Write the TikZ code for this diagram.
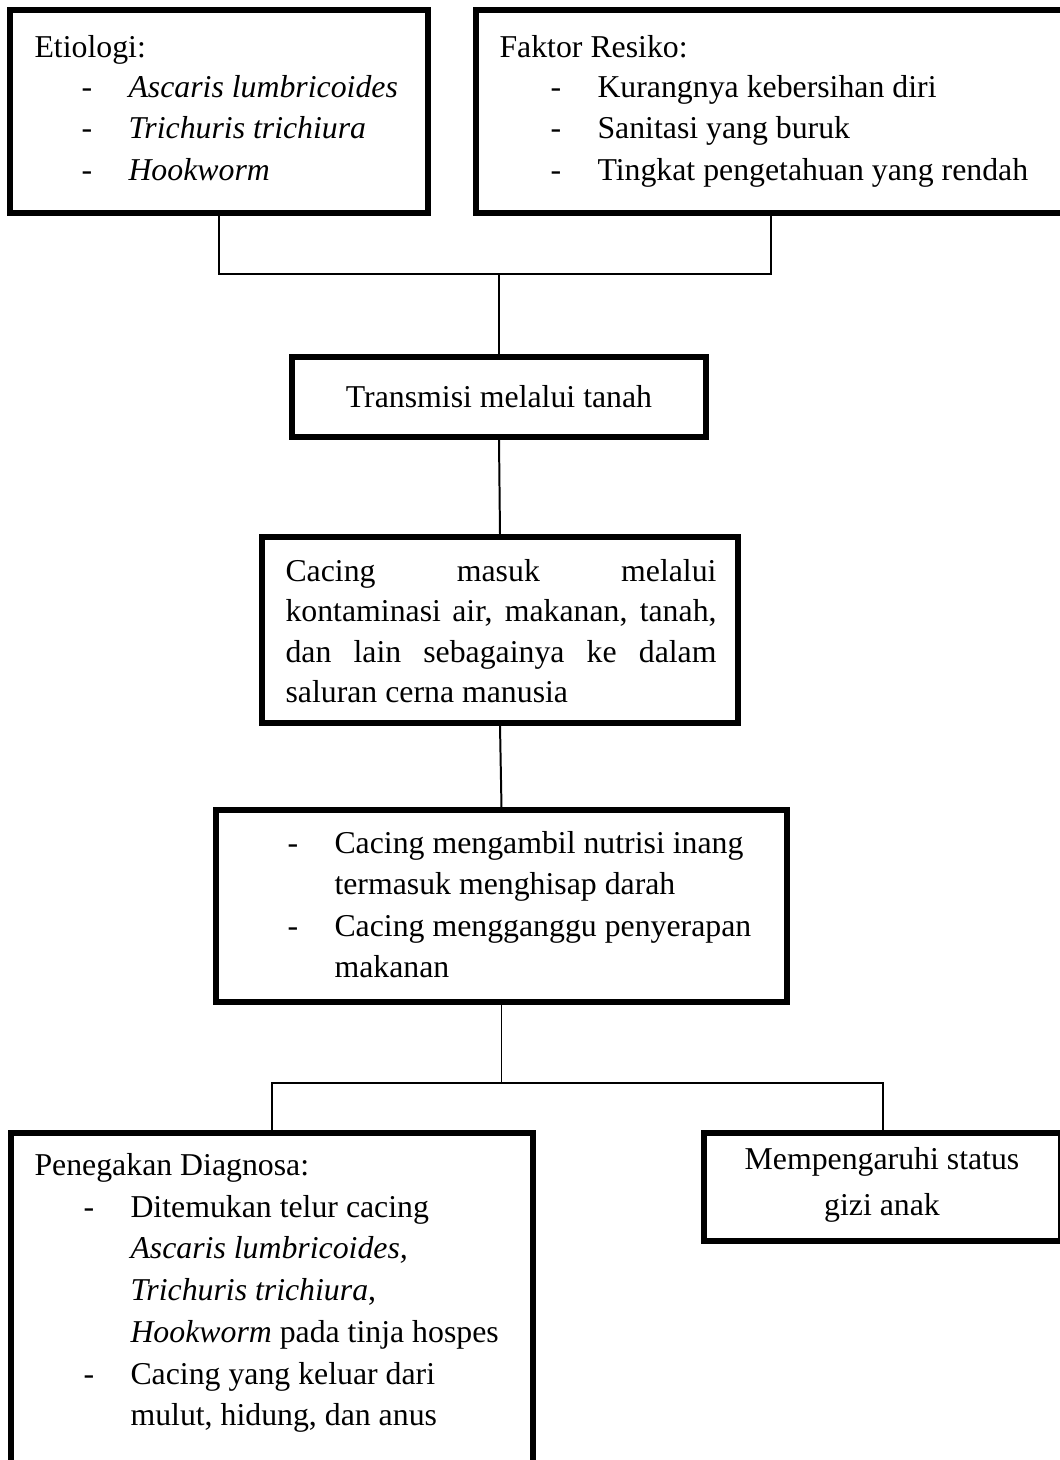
\documentclass[tikz,border=0pt]{standalone}
\usepackage{fontspec}
\setmainfont{Liberation Serif}
\usetikzlibrary{fit}
\newdimen\px \px=0.3774pt
\newcommand{\dashitem}[1]{\makebox[47\px][l]{-}#1}

\begin{document}
\begin{tikzpicture}[x=0.3774pt, y=-0.3774pt,
		box/.style={draw, line width=1.9pt, inner sep=0pt},
		link/.style={line width=0.75pt},
		txt/.style={anchor=base west, inner sep=0pt, font=\fontsize{12pt}{15pt}\selectfont},
		mid/.style={txt, anchor=base}]
		%%%%% START %%%%%
		
		\useasboundingbox (0,0) rectangle (1060,1460);
		\clip (0,0) rectangle (1060,1460);
		
		\node[box, fit={(10,10) (428,213)}] (etio) {};
		\node[box, fit={(476,10) (1066,213)}] (faktor) {};
		\node[box, fit={(292,357) (706,437)}] (trans) {};
		\node[box, fit={(262,537) (738,723)}] (masuk) {};
		\node[box, fit={(216,810) (787,1002)}] (nutri) {};
		\node[box, fit={(11,1133) (533,1520)}] (diag) {};
		\node[box, fit={(704,1133) (1061,1241)}] (gizi) {};
		
		\draw[link] (trans.north) -- ++(0,-80) coordinate (jtop);
		\draw[link] (etio.south) |- (jtop) -| (faktor.south);
		\draw[link] (trans.south) -- (masuk.north);
		\draw[link] (masuk.south) -- (nutri.north);
		\draw[link] (nutri.south) -- ++(0,78) coordinate (jbot);
		\draw[link] (diag.north) |- (jbot) -| (gizi.north);
		
		\node[txt] (etio0) at (34,57) {Etiologi:};
		\node[txt] (etio1) at (81,97) {\dashitem{\textit{Ascaris lumbricoides}}};
		\node[txt] (etio2) at (81,138) {\dashitem{\textit{Trichuris trichiura}}};
		\node[txt] (etio3) at (81,180) {\dashitem{\textit{Hookworm}}};
		
		\node[txt] (faktor0) at (499,57) {Faktor Resiko:};
		\node[txt] (faktor1) at (550,97) {\dashitem{Kurangnya kebersihan diri}};
		\node[txt] (faktor2) at (550,138) {\dashitem{Sanitasi yang buruk}};
		\node[txt] (faktor3) at (550,180) {\dashitem{Tingkat pengetahuan yang rendah}};
		
		\node[txt, anchor=center] (trans0) at (trans.center) {Transmisi melalui tanah};
		
		\node[txt] (masuk1) at (285,581) {\makebox[431\px][s]{Cacing masuk melalui}};
		\node[txt] (masuk2) at (285,621) {\makebox[431\px][s]{kontaminasi air, makanan, tanah,}};
		\node[txt] (masuk3) at (285,662) {\makebox[431\px][s]{dan lain sebagainya ke dalam}};
		\node[txt] (masuk4) at (285,702) {saluran cerna manusia};
		
		\node[txt] (nutri1) at (287,853) {\dashitem{Cacing mengambil nutrisi inang}};
		\node[txt] (nutri2) at (334,894) {termasuk menghisap darah};
		\node[txt] (nutri3) at (287,936) {\dashitem{Cacing mengganggu penyerapan}};
		\node[txt] (nutri4) at (334,977) {makanan};
		
		\node[txt] (diag0) at (34,1175) {Penegakan Diagnosa:};
		\node[txt] (diag1) at (83,1217) {\dashitem{Ditemukan telur cacing}};
		\node[txt] (diag2) at (130,1258) {\textit{Ascaris lumbricoides,}};
		\node[txt] (diag3) at (130,1300) {\textit{Trichuris trichiura},};
		\node[txt] (diag4) at (130,1342) {\textit{Hookworm} pada tinja hospes};
		\node[txt] (diag5) at (83,1384) {\dashitem{Cacing yang keluar dari}};
		\node[txt] (diag6) at (130,1425) {mulut, hidung, dan anus};
		
		\node[mid] (gizi1) at (882,1169) {Mempengaruhi status};
		\node[mid] (gizi2) at (882,1215) {gizi anak};
		
		%%%%% END %%%%%
	\end{tikzpicture}
\end{document}
